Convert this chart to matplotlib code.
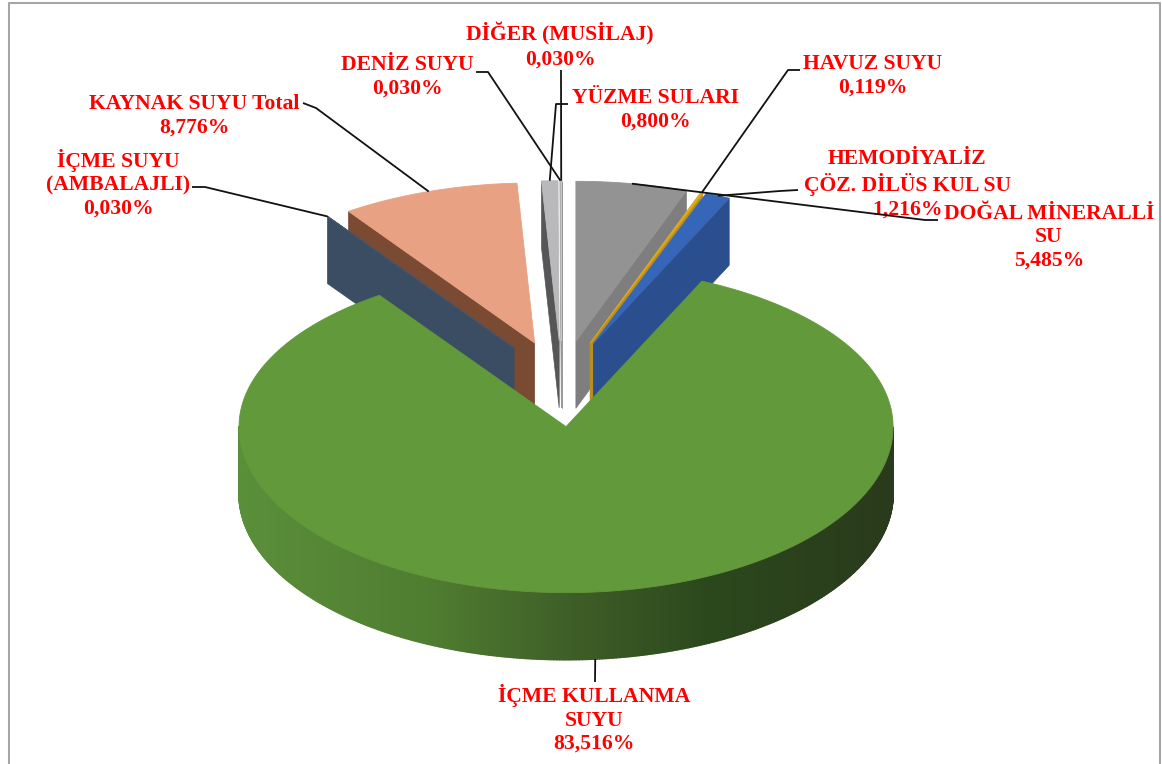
#!/usr/bin/env python3
import numpy as np
import matplotlib
matplotlib.use("Agg")
import matplotlib.pyplot as plt
from matplotlib.patches import Polygon
from matplotlib.collections import PolyCollection
from matplotlib.colors import LinearSegmentedColormap

# slices, clockwise from 12 o'clock
LABELS = ["DOĞAL MİNERALLİ\nSU", "HAVUZ SUYU", "HEMODİYALİZ\nÇÖZ. DİLÜS KUL SU",
          "İÇME KULLANMA\nSUYU", "İÇME SUYU\n(AMBALAJLI)", "KAYNAK SUYU Total",
          "YÜZME SULARI", "DENİZ SUYU", "DİĞER (MUSİLAJ)"]
VALUES = [5.485, 0.119, 1.216, 83.516, 0.030, 8.776, 0.800, 0.030, 0.030]
TOP_COLORS = ["#939393", "#E0A81C", "#3566B8", "#61993B", "#44546A", "#E8A283",
              "#B9B9BC", "#C4C4C4", "#C4C4C4"]
WALL_COLORS = ["#7E7E7E", "#B8901F", "#2A4E8E", "#3F5F28", "#3A4D63", "#7A4A33",
               "#565656", "#9A9A9A", "#9A9A9A"]
DRAW_ORDER = [5, 4, 6, 7, 8, 0, 1, 2, 3]
BIG_SLICE = 3

# label centres and leader elbows, in pixels
LABEL_POS = [(1049, 237), (873, 76), (907, 184), (594, 719), (118, 184), (194, 116),
             (655, 110), (407, 77), (560, 46)]
LEADER_START = [[(938, 220), (925, 220)], [(800, 70), (788, 70)], [(798, 190), (780, 191)],
                [(595, 682)], [(192, 187), (205, 187)], [(303, 103), (316, 108)],
                [(568, 104), (556, 104)], [(476, 72), (488, 72)], [(561, 70)]]

# pie geometry, pixels
CX, CY = 561.6, 381.5
BIG_NUDGE = (-3.0, 3.0)  # big slice sits slightly off the common centre
RX, RY_BACK, RY_FRONT = 327.0, 160.0, 166.0
DEPTH = 67.0
EXPLODE = 0.255
FONT_SIZE = 15.6
RED = "#FF0000"
LEADER = "#111111"
FRAME = "#A6A6A6"

plt.rcParams["font.family"] = ["Liberation Serif", "DejaVu Serif"]


def rim(theta, ox=0.0, oy=0.0):
    """theta in deg clockwise from top, arrays ok."""
    t = np.radians(theta)
    v = -np.cos(t)
    ry = np.where(v > 0, RY_FRONT, RY_BACK)
    return ox + RX * np.sin(t), oy + ry * v


def origin(i, edges):
    ox, oy = rim(0.5 * (edges[i] + edges[i + 1]))
    ox, oy = CX + EXPLODE * ox, CY + EXPLODE * oy
    if i == BIG_SLICE:
        ox, oy = ox + BIG_NUDGE[0], oy + BIG_NUDGE[1]
    return ox, oy


def quad(ax, apex, edge, color, zorder):
    pts = [apex, edge, (edge[0], edge[1] + DEPTH), (apex[0], apex[1] + DEPTH)]
    ax.add_patch(Polygon(pts, closed=True, fc=color, ec=color, lw=0.5, zorder=zorder))


def main():
    fig = plt.figure(figsize=(11.62, 7.64), dpi=100)
    ax = fig.add_axes([0, 0, 1, 1])
    ax.set_xlim(0, 1162)
    ax.set_ylim(764, 0)
    ax.axis("off")

    vals = np.asarray(VALUES)
    edges = np.concatenate([[0.0], np.cumsum(vals)]) / vals.sum() * 360.0
    wall_cmap = LinearSegmentedColormap.from_list(
        "wall", [(0.0, "#5A8F3A"), (0.3, "#4F7C30"), (0.5, "#3F5F28"),
                 (0.72, "#2B481C"), (1.0, "#2A3A1C")])

    z = 2
    for i in DRAW_ORDER:
        a0, a1 = edges[i], edges[i + 1]
        ox, oy = origin(i, edges)

        # cut faces that look towards the viewer
        if np.sin(np.radians(a0)) < 0:
            quad(ax, (ox, oy), rim(a0, ox, oy), WALL_COLORS[i], z)
        if np.sin(np.radians(a1)) > 0:
            quad(ax, (ox, oy), rim(a1, ox, oy), WALL_COLORS[i], z)
        z += 1

        # outer wall, front half only
        th = np.linspace(a0, a1, max(int(a1 - a0) * 2, 3))
        front = th[np.cos(np.radians(th)) < 0]
        if front.size > 1:
            xs, ys = rim(front, ox, oy)
            polys = [[(xs[k], ys[k]), (xs[k + 1], ys[k + 1]),
                      (xs[k + 1], ys[k + 1] + DEPTH), (xs[k], ys[k] + DEPTH)]
                     for k in range(len(xs) - 1)]
            fracs = (xs[:-1] - xs.min()) / (xs.max() - xs.min())
            cols = wall_cmap(fracs)
            ax.add_collection(PolyCollection(polys, facecolors=cols, edgecolors=cols,
                                             linewidths=1.2, zorder=z))
            z += 1

        # top face
        xs, ys = rim(th, ox, oy)
        pts = np.column_stack([np.r_[ox, xs], np.r_[oy, ys]])
        ax.add_patch(Polygon(pts, closed=True, fc=TOP_COLORS[i], ec=TOP_COLORS[i],
                             lw=0.6, zorder=z))
        z += 1

    # leaders run from the label to the slice rim
    for i in range(len(VALUES)):
        mid = 0.5 * (edges[i] + edges[i + 1])
        ox, oy = origin(i, edges)
        ex, ey = rim(mid, ox, oy)
        if np.cos(np.radians(mid)) < 0:
            ey = ey + DEPTH
        line = LEADER_START[i] + [(float(ex), float(ey))]
        ax.plot([p[0] for p in line], [p[1] for p in line], color=LEADER, lw=1.3,
                solid_capstyle="butt", zorder=90)

    for name, val, (x, y) in zip(LABELS, VALUES, LABEL_POS):
        txt = name + "\n" + f"{val:.3f}".replace(".", ",") + "%"
        ax.text(x, y, txt, color=RED, fontsize=FONT_SIZE, fontweight="bold",
                ha="center", va="center", multialignment="center",
                linespacing=1.22, zorder=80)

    # chart frame, the bottom edge is cut off
    ax.plot([8.5, 8.5, 1160, 1160], [764, 3, 3, 764], color=FRAME, lw=1.5, zorder=100)

    fig.savefig("out.png", dpi=100)


if __name__ == "__main__":
    main()
